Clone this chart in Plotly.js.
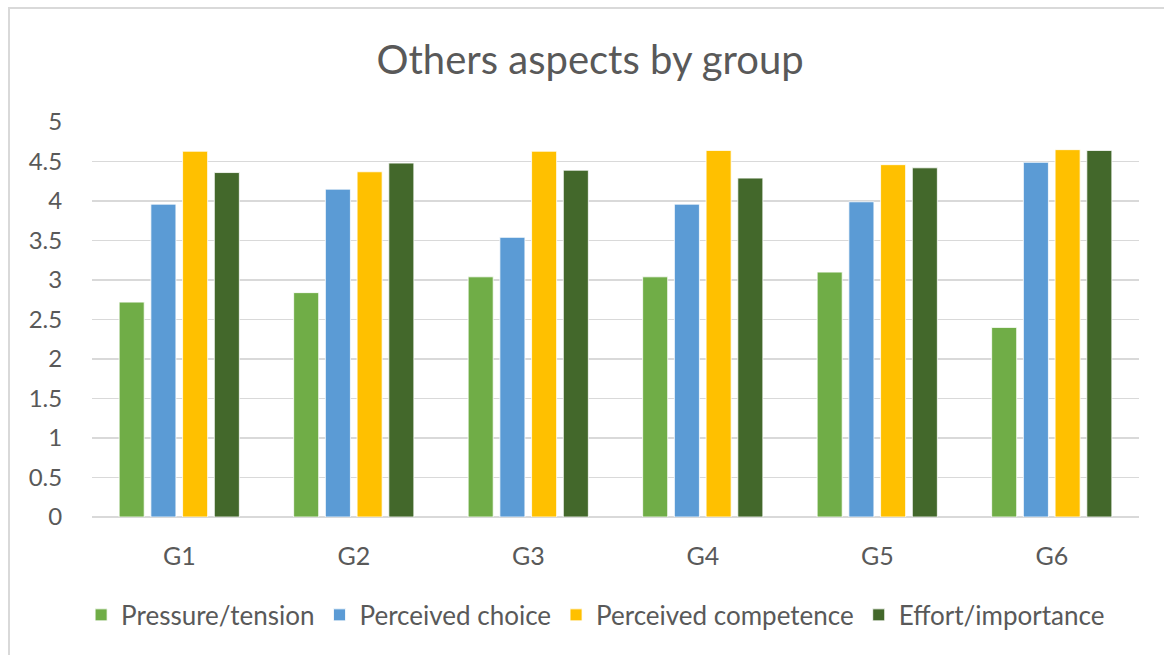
<!DOCTYPE html>
<html>
<head>
<meta charset="utf-8">
<script src="https://cdn.plot.ly/plotly-3.0.1.min.js"></script>
<style>
  html, body { margin: 0; padding: 0; background: #ffffff; overflow: hidden; }
  #frame { position: absolute; left: 8px; top: 7px; width: 1200px; height: 700px; border: 2px solid #d9d9d9; box-sizing: border-box; }
  #chart { position: absolute; left: 0; top: 0; width: 1164px; height: 655px; }
</style>
</head>
<body>
<div id="frame"></div>
<div id="chart"></div>
<script>
const categories = ["G1", "G2", "G3", "G4", "G5", "G6"];
const seriesNames = ["Pressure/tension", "Perceived choice", "Perceived competence", "Effort/importance"];
const pressureTension = [2.72, 2.84, 3.04, 3.04, 3.10, 2.40];
const perceivedChoice = [3.96, 4.15, 3.54, 3.96, 3.99, 4.49];
const perceivedCompetence = [4.63, 4.37, 4.63, 4.64, 4.46, 4.65];
const effortImportance = [4.36, 4.48, 4.39, 4.29, 4.42, 4.64];
const yTicks = [0, 0.5, 1, 1.5, 2, 2.5, 3, 3.5, 4, 4.5, 5];
const yTickLabels = ["0", "0.5", "1", "1.5", "2", "2.5", "3", "3.5", "4", "4.5", "5"];

const colors = ["#70AD47", "#5B9BD5", "#FFC000", "#43682B"];
const values = [pressureTension, perceivedChoice, perceivedCompetence, effortImportance];
const FONT = "Lato, 'Open Sans', sans-serif";
const TXT = "#595959";

const traces = values.map((v, i) => ({
  type: "bar",
  name: seriesNames[i],
  x: categories,
  y: v,
  marker: { color: colors[i], line: { color: "rgba(255,255,255,0.8)", width: 1 } },
  hoverinfo: "x+y+name"
}));

const layout = {
  width: 1164,
  height: 655,
  paper_bgcolor: "rgba(0,0,0,0)",
  plot_bgcolor: "rgba(0,0,0,0)",
  margin: { l: 92, r: 25, t: 122, b: 138 },
  barmode: "group",
  bargap: 0.273,
  bargroupgap: 0.21,
  font: { family: FONT, color: TXT },
  title: {
    text: "Others aspects by group",
    font: { family: FONT, size: 40, color: TXT },
    x: 0.507, xanchor: "center",
    y: 0.908, yanchor: "middle"
  },
  xaxis: {
    type: "category",
    tickfont: { family: FONT, size: 25, color: TXT },
    showgrid: false,
    showline: false,
    zeroline: false,
    ticks: "outside",
    ticklen: 17,
    tickcolor: "rgba(0,0,0,0)"
  },
  yaxis: {
    range: [0, 5],
    tickvals: yTicks,
    ticktext: yTickLabels,
    tickfont: { family: FONT, size: 24, color: TXT },
    showgrid: true,
    gridcolor: "#d9d9d9",
    gridwidth: 1.5,
    zeroline: true,
    zerolinecolor: "#d9d9d9",
    zerolinewidth: 2,
    showline: false,
    ticks: "outside",
    ticklen: 24,
    tickcolor: "rgba(0,0,0,0)",
    fixedrange: true
  },
  showlegend: true,
  legend: {
    orientation: "h",
    x: 0.481, xanchor: "center",
    y: -0.248, yanchor: "middle",
    font: { family: FONT, size: 26, color: TXT },
    bgcolor: "rgba(0,0,0,0)",
    traceorder: "normal"
  }
};

Plotly.newPlot("chart", traces, layout, { displayModeBar: false, staticPlot: true });
</script>
</body>
</html>
